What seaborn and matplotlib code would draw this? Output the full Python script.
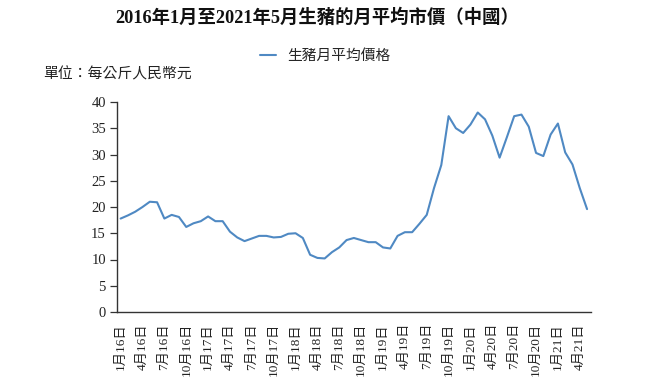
import matplotlib
matplotlib.use("Agg")
import matplotlib.pyplot as plt
import seaborn as sns
import pandas as pd
import numpy as np
from matplotlib.lines import Line2D

months = ["1月16日","2月16日","3月16日","4月16日","5月16日","6月16日","7月16日","8月16日","9月16日","10月16日","11月16日","12月16日",
          "1月17日","2月17日","3月17日","4月17日","5月17日","6月17日","7月17日","8月17日","9月17日","10月17日","11月17日","12月17日",
          "1月18日","2月18日","3月18日","4月18日","5月18日","6月18日","7月18日","8月18日","9月18日","10月18日","11月18日","12月18日",
          "1月19日","2月19日","3月19日","4月19日","5月19日","6月19日","7月19日","8月19日","9月19日","10月19日","11月19日","12月19日",
          "1月20日","2月20日","3月20日","4月20日","5月20日","6月20日","7月20日","8月20日","9月20日","10月20日","11月20日","12月20日",
          "1月21日","2月21日","3月21日","4月21日","5月21日"]
price = [17.8,18.4,19.1,20.0,21.0,20.9,17.8,18.5,18.1,16.2,16.9,17.3,
         18.2,17.3,17.3,15.3,14.2,13.5,14.0,14.5,14.5,14.2,14.3,14.9,
         15.0,14.1,10.9,10.3,10.2,11.4,12.3,13.7,14.1,13.7,13.3,13.3,
         12.3,12.1,14.5,15.2,15.2,16.8,18.5,23.6,28.0,37.3,35.0,34.1,
         35.7,38.0,36.7,33.6,29.4,33.3,37.3,37.6,35.3,30.3,29.7,33.8,
         35.9,30.4,28.1,23.6,19.6]
yticks = [0,5,10,15,20,25,30,35,40]
series_name = "生豬月平均價格"
title = "2016年1月至2021年5月生豬的月平均市價（中國）"
unit = "單位：每公斤人民幣元"

sns.set_theme(style="white")
plt.rcParams['font.family'] = ['Liberation Serif', 'Noto Sans CJK TC', 'DejaVu Sans']

line_color = "#4f89c3"
df = pd.DataFrame({"idx": np.arange(len(months)), "price": price, "series": series_name})

fig = plt.figure(figsize=(6.5, 3.9), dpi=100)
ax = fig.add_axes([117/650, 1-312/390, (590.7-117)/650, (312-102)/390])
sns.lineplot(data=df, x="idx", y="price", hue="series", palette=[line_color], linewidth=1.5, ax=ax, legend=False)

ax.set_xlim(-0.5, len(months) - 0.5)
ax.set_ylim(0, 40)
ax.set_yticks(yticks)
ax.set_yticklabels([str(v) for v in yticks], fontsize=10.5, color="#222222")
tick_idx = list(range(0, len(months), 3))
ax.set_xticks(tick_idx)
ax.set_xticklabels([months[i] for i in tick_idx], rotation=90, fontsize=9.5, color="#222222")
ax.tick_params(axis='y', length=5, width=0.9, color="#333333", left=True, pad=3)
ax.tick_params(axis='x', length=0, pad=8)
ax.set_xlabel("")
ax.set_ylabel("")
for s in ["top", "right"]:
    ax.spines[s].set_visible(False)
for s in ["left", "bottom"]:
    ax.spines[s].set_color("#333333")
    ax.spines[s].set_linewidth(1.0)

fig.text(317/650, 1-18/390, title, ha="center", va="center", fontsize=13.2, fontweight="bold",
         family=['Liberation Serif', 'Noto Sans CJK TC'], color="#111111")
h = Line2D([0], [0], color=line_color, linewidth=1.5)
fig.legend([h], [series_name], loc="center left", bbox_to_anchor=(260/650, 1-56/390), frameon=False,
           handlelength=1.1, handletextpad=0.75, borderpad=0, borderaxespad=0,
           prop={'family': ['Noto Sans CJK TC'], 'size': 10.6})
fig.text(43/650, 1-74/390, unit, ha="left", va="center", fontsize=10.7,
         family=['Liberation Serif', 'Noto Sans CJK TC'], color="#222222")

fig.savefig("out.png", dpi=100)
